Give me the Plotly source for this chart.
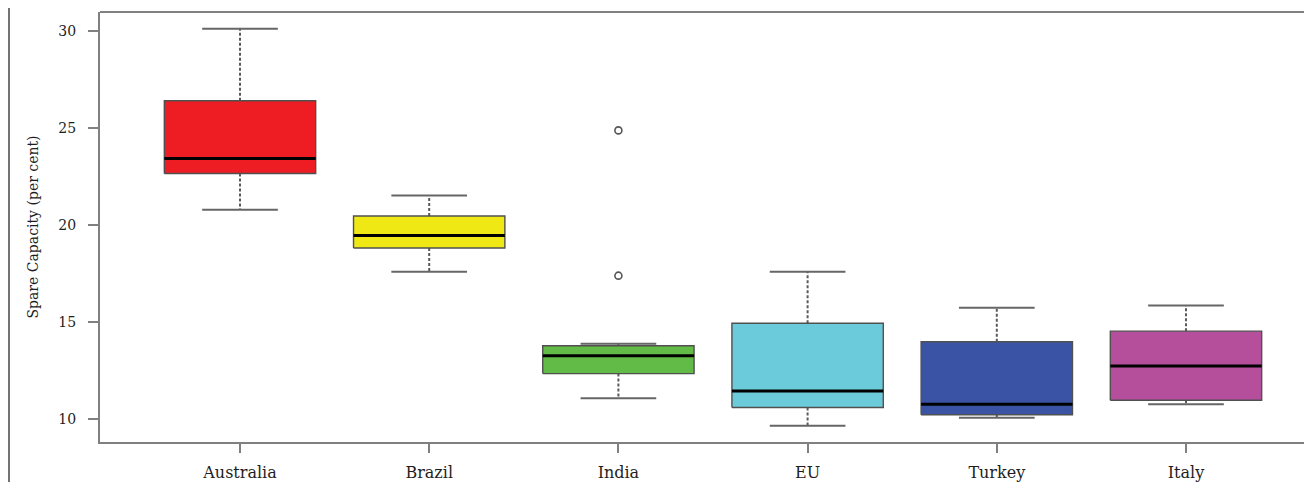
import plotly.graph_objects as go

categories = ["Australia", "Brazil", "India", "EU", "Turkey", "Italy"]
colors = ["#EE1D23", "#F0E814", "#63BB47", "#6CCBDB", "#3A53A4", "#B54F9C"]
lower_whisker = [20.78, 17.58, 11.06, 9.64, 10.05, 10.75]
q1 = [22.65, 18.81, 12.33, 10.58, 10.21, 10.96]
median = [23.42, 19.45, 13.25, 11.44, 10.75, 12.72]
q3 = [26.40, 20.46, 13.77, 14.93, 13.97, 14.52]
upper_whisker = [30.11, 21.52, 13.87, 17.58, 15.73, 15.84]
outlier_cat = ["India", "India"]
outlier_val = [24.87, 17.38]
y_ticks = [10, 15, 20, 25, 30]

FONT = "DejaVu Serif"
TXT = "#1e1e1e"
BOXW = 0.4
CAPW = 0.2
pos = {c: i + 1 for i, c in enumerate(categories)}

fig = go.Figure()

# whiskers (dashed)
wx, wy = [], []
for i, c in enumerate(categories):
    p = pos[c]
    wx += [p, p, None, p, p, None]
    wy += [q3[i], upper_whisker[i], None, q1[i], lower_whisker[i], None]
fig.add_trace(go.Scatter(x=wx, y=wy, mode="lines",
                         line=dict(color="#5a5a5a", width=2, dash="3px,2px"),
                         showlegend=False, hoverinfo="skip"))
# caps
cx, cy = [], []
for i, c in enumerate(categories):
    p = pos[c]
    cx += [p - CAPW, p + CAPW, None, p - CAPW, p + CAPW, None]
    cy += [upper_whisker[i], upper_whisker[i], None, lower_whisker[i], lower_whisker[i], None]
fig.add_trace(go.Scatter(x=cx, y=cy, mode="lines",
                         line=dict(color="#666666", width=2),
                         showlegend=False, hoverinfo="skip"))
# boxes
for i, c in enumerate(categories):
    p = pos[c]
    fig.add_trace(go.Scatter(
        x=[p - BOXW, p + BOXW, p + BOXW, p - BOXW, p - BOXW],
        y=[q1[i], q1[i], q3[i], q3[i], q1[i]],
        mode="lines", fill="toself", fillcolor=colors[i],
        line=dict(color="#505050", width=1.4),
        showlegend=False, name=c))
# medians
mx, my = [], []
for i, c in enumerate(categories):
    p = pos[c]
    mx += [p - BOXW, p + BOXW, None]
    my += [median[i], median[i], None]
fig.add_trace(go.Scatter(x=mx, y=my, mode="lines",
                         line=dict(color="#000000", width=3),
                         showlegend=False, hoverinfo="skip"))
# outliers
fig.add_trace(go.Scatter(x=[pos[c] for c in outlier_cat], y=outlier_val, mode="markers",
                         marker=dict(symbol="circle-open", size=7, color="#555555",
                                     line=dict(width=1.6)),
                         showlegend=False))

fig.update_layout(
    width=1304, height=474,
    margin=dict(l=92, r=0, t=4, b=30),
    paper_bgcolor="white", plot_bgcolor="white",
    font=dict(family=FONT, color=TXT),
    showlegend=False,
    xaxis=dict(range=[0.26, 6.666], tickvals=list(range(1, len(categories) + 1)),
               ticktext=categories, showgrid=False, zeroline=False,
               showline=True, linecolor="#808080", linewidth=2,
               ticks="outside", ticklen=9, tickwidth=2, tickcolor="#808080",
               ticklabelstandoff=6,
               tickfont=dict(size=16, family=FONT, color=TXT)),
    yaxis=dict(range=[8.804, 30.975], tickvals=y_ticks, showgrid=False, zeroline=False,
               showline=True, linecolor="#808080", linewidth=2,
               ticks="outside", ticklen=10, tickwidth=2, tickcolor="#808080",
               ticklabelstandoff=9,
               tickfont=dict(size=14, family=FONT, color=TXT),
               title=dict(text="Spare Capacity (per cent)", standoff=16,
                          font=dict(size=14, family=FONT, color=TXT))),
)
# top frame line
fig.add_shape(type="line", xref="paper", yref="paper", x0=0, x1=1, y0=1, y1=1,
              line=dict(color="#808080", width=2))
# page border line at left
fig.add_shape(type="line", xref="paper", yref="paper", x0=-91 / 1212, x1=-91 / 1212,
              y0=-0.2, y1=1.1, line=dict(color="#444444", width=1.5))

fig.write_html("out.html")
